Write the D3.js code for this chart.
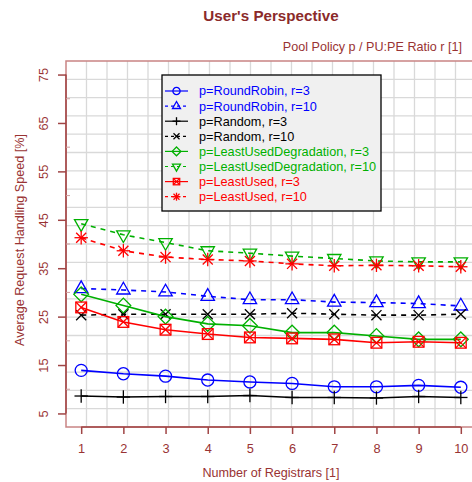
<!DOCTYPE html>
<html>
<head>
<meta charset="utf-8">
<script src="https://cdn.jsdelivr.net/npm/d3@7"></script>
<style>
  body { margin: 0; background: #fff; }
  svg { font-family: "Liberation Sans", Arial, Helvetica, sans-serif; }
</style>
</head>
<body>
<script>
// data
const registrars = [1, 2, 3, 4, 5, 6, 7, 8, 9, 10];
const roundRobinR3  = [13.9, 13.2, 12.7, 11.9, 11.5, 11.2, 10.5, 10.5, 10.8, 10.4];
const roundRobinR10 = [30.8, 30.5, 30.1, 29.2, 28.5, 28.5, 28.0, 27.9, 27.7, 27.2];
const randomR3      = [8.6, 8.4, 8.5, 8.5, 8.7, 8.3, 8.3, 8.2, 8.5, 8.3];
const randomR10     = [25.3, 25.5, 25.5, 25.5, 25.5, 25.7, 25.5, 25.3, 25.3, 25.5];
const ludR3         = [29.6, 27.3, 25.0, 23.5, 23.1, 21.7, 21.7, 21.0, 20.3, 20.3];
const ludR10        = [44.2, 41.9, 40.3, 38.6, 38.1, 37.5, 37.0, 36.5, 36.3, 36.3];
const luR3          = [26.9, 23.9, 22.3, 21.4, 20.7, 20.5, 20.3, 19.6, 19.8, 19.6];
const luR10         = [41.3, 38.6, 37.3, 36.8, 36.5, 35.9, 35.5, 35.6, 35.5, 35.3];

const yTicks = [5, 15, 25, 35, 45, 55, 65, 75];
const yMinorTicks = [10, 20, 30, 40, 50, 60, 70];

const series = [
  {label: 'p=RoundRobin, r=3', values: roundRobinR3, color: '#0000ff', dash: null, shape: 'circle'},
  {label: 'p=RoundRobin, r=10', values: roundRobinR10, color: '#0000ff', dash: true, shape: 'triUp'},
  {label: 'p=Random, r=3', values: randomR3, color: '#000000', dash: null, shape: 'plus'},
  {label: 'p=Random, r=10', values: randomR10, color: '#000000', dash: true, shape: 'cross'},
  {label: 'p=LeastUsedDegradation, r=3', values: ludR3, color: '#00b000', dash: null, shape: 'diamond'},
  {label: 'p=LeastUsedDegradation, r=10', values: ludR10, color: '#00b000', dash: true, shape: 'triDown'},
  {label: 'p=LeastUsed, r=3', values: luR3, color: '#ff0000', dash: null, shape: 'boxX'},
  {label: 'p=LeastUsed, r=10', values: luR10, color: '#ff0000', dash: true, shape: 'asterisk'}
];

const W = 472, H = 482;
const textColor = '#993333';
const svg = d3.select('body').append('svg').attr('width', W).attr('height', H);

const plotL = 66, plotT = 61, plotR = 476, plotB = 427;
const x = d3.scaleLinear().domain([0.64, 10.36]).range([plotL, plotR]);
const y = d3.scaleLinear().domain([2.2, 77.8]).range([plotB, plotT]);

// grid (20 x 20 cells over the plot box)
const grid = svg.append('g').attr('stroke', '#d9d9d9').attr('stroke-width', 1.3);
d3.range(1, 20).forEach(k => {
  const gx = plotL + k * (plotR - plotL) / 20;
  const gy = plotT + k * (plotB - plotT) / 20;
  grid.append('line').attr('x1', gx).attr('x2', gx).attr('y1', plotT).attr('y2', plotB);
  grid.append('line').attr('x1', plotL).attr('x2', plotR).attr('y1', gy).attr('y2', gy);
});

// plot box
svg.append('rect').attr('x', plotL).attr('y', plotT)
  .attr('width', plotR - plotL).attr('height', plotB - plotT)
  .attr('fill', 'none').attr('stroke', '#c98484').attr('stroke-width', 1.5);

// axes
const xAxis = svg.append('g').attr('transform', `translate(0,${plotB})`)
  .call(d3.axisBottom(x).tickValues(registrars).tickSize(7).tickPadding(10));
xAxis.select('.domain').attr('d', `M${x(1)},0H${x(10)}`);
const yAxis = svg.append('g').attr('transform', `translate(${plotL},0)`)
  .call(d3.axisLeft(y).tickValues(yTicks).tickSize(8).tickPadding(6));
yAxis.select('.domain').attr('d', `M0,${y(75)}V${y(5)}`);
[xAxis, yAxis].forEach(a => {
  a.select('.domain').attr('stroke', '#a04545').attr('stroke-width', 1.5);
  a.selectAll('.tick line').attr('stroke', '#a04545').attr('stroke-width', 1.5);
  a.selectAll('text').attr('fill', textColor).attr('font-size', 12.8)
    .attr('font-family', '"Liberation Sans", Arial, sans-serif');
});
yAxis.selectAll('.tick text')
  .attr('transform', 'rotate(-90,-22,0)')
  .attr('x', -22).attr('dy', '0.35em').attr('text-anchor', 'middle');
yAxis.selectAll('.minor').data(yMinorTicks).enter().append('line')
  .attr('x1', 0).attr('x2', 4).attr('y1', d => y(d)).attr('y2', d => y(d))
  .attr('stroke', '#d0a0a0').attr('stroke-width', 1);

// marker drawing
function marker(g, shape, color, s) {
  const st = {stroke: color, 'stroke-width': 1.3, fill: 'none'};
  const add = (tag, attrs) => {
    const e = g.append(tag);
    Object.entries(Object.assign({}, st, attrs)).forEach(([k, v]) => e.attr(k, v));
  };
  const line = (x1, y1, x2, y2) => add('line', {x1, y1, x2, y2});
  if (shape === 'circle') add('circle', {r: s * 0.9});
  if (shape === 'triUp') add('path', {d: `M0,${-s * 1.15}L${s},${s * 0.6}L${-s},${s * 0.6}Z`});
  if (shape === 'triDown') add('path', {d: `M0,${s * 1.15}L${s},${-s * 0.6}L${-s},${-s * 0.6}Z`});
  if (shape === 'diamond') add('path', {d: `M0,${-s * 1.1}L${s * 1.1},0L0,${s * 1.1}L${-s * 1.1},0Z`});
  if (shape === 'plus') { line(-s, 0, s, 0); line(0, -s, 0, s); }
  if (shape === 'cross') { const c = s * 0.75; line(-c, -c, c, c); line(-c, c, c, -c); }
  if (shape === 'boxX') {
    const c = s * 0.8;
    add('rect', {x: -c, y: -c, width: 2 * c, height: 2 * c});
    line(-c, -c, c, c); line(-c, c, c, -c);
  }
  if (shape === 'asterisk') {
    const c = s * 0.75;
    line(-s, 0, s, 0); line(0, -s, 0, s); line(-c, -c, c, c); line(-c, c, c, -c);
  }
}

// series lines and markers
const lineGen = d3.line().x((d, i) => x(registrars[i])).y(d => y(d));
series.forEach(s => {
  svg.append('path').datum(s.values).attr('d', lineGen)
    .attr('fill', 'none').attr('stroke', s.color).attr('stroke-width', 1.6)
    .attr('stroke-dasharray', s.dash ? '5,5' : null);
  s.values.forEach((v, i) => {
    const g = svg.append('g').attr('transform', `translate(${x(registrars[i])},${y(v)})`);
    marker(g, s.shape, s.color, 6.7);
  });
});

// legend
const lg = svg.append('g').attr('transform', 'translate(162,75)');
lg.append('rect').attr('width', 219).attr('height', 136)
  .attr('fill', '#f0f0f0').attr('stroke', '#000').attr('stroke-width', 1.3);
series.forEach((s, i) => {
  const ry = 16 + i * 15.1;
  lg.append('line').attr('x1', 3).attr('x2', 26).attr('y1', ry).attr('y2', ry)
    .attr('stroke', s.color).attr('stroke-width', 1.2)
    .attr('stroke-dasharray', s.dash ? '3,3' : null);
  marker(lg.append('g').attr('transform', `translate(14.5,${ry})`), s.shape, s.color, 4);
  lg.append('text').attr('x', 37).attr('y', ry + 4.4).attr('fill', s.color)
    .attr('font-size', 12.7).text(s.label);
});

// titles
svg.append('text').attr('x', (plotL + plotR) / 2).attr('y', 21).attr('text-anchor', 'middle')
  .attr('fill', '#8b2a2a').attr('font-weight', 'bold').attr('font-size', 15.2).text("User's Perspective");
svg.append('text').attr('x', 462).attr('y', 51).attr('text-anchor', 'end')
  .attr('fill', textColor).attr('font-size', 12.6).text('Pool Policy p / PU:PE Ratio r [1]');
svg.append('text').attr('x', (plotL + plotR) / 2).attr('y', 477).attr('text-anchor', 'middle')
  .attr('fill', textColor).attr('font-size', 12.6).text('Number of Registrars [1]');
svg.append('text').attr('transform', `translate(24,${(plotT + plotB) / 2 - 4}) rotate(-90)`)
  .attr('text-anchor', 'middle').attr('fill', textColor).attr('font-size', 12.6)
  .text('Average Request Handling Speed [%]');
</script>
</body>
</html>
